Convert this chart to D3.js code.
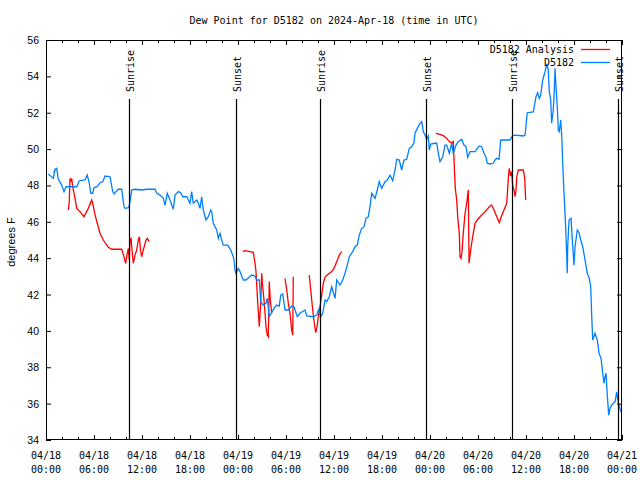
<!DOCTYPE html>
<html><head><meta charset="utf-8">
<script src="https://cdn.jsdelivr.net/npm/d3@7"></script>
<style>body{margin:0;background:#fff}</style></head>
<body><svg id="c" width="640" height="480"></svg>
<script>
const titleText = "Dew Point for D5182 on 2024-Apr-18 (time in UTC)";
const yLabel = "degrees F";
const yTicks = [34,36,38,40,42,44,46,48,50,52,54,56];
const xTickDays = ["04/18","04/18","04/18","04/18","04/19","04/19","04/19","04/19","04/20","04/20","04/20","04/20","04/21"];
const xTickTimes = ["00:00","06:00","12:00","18:00","00:00","06:00","12:00","18:00","00:00","06:00","12:00","18:00","00:00"];
const sunLabels = ["Sunrise","Sunset","Sunrise","Sunset","Sunrise","Sunset"];
const sunTimes = ["2024-04-18T10:24Z","2024-04-18T23:42Z","2024-04-19T10:18Z","2024-04-19T23:30Z","2024-04-20T10:18Z","2024-04-20T23:30Z"];
const seriesNames = ["D5182 Analysis","D5182"];

// hours after 2024-04-18 00:00 UTC
const blueHours = [0.29,0.91,1.13,1.34,1.54,1.96,2.25,2.5,3.84,4.16,4.88,5.16,5.41,5.59,5.84,6.0,6.41,6.75,7.09,7.38,8.0,8.34,8.5,9.04,9.46,9.75,9.88,10.34,10.5,10.71,11.13,11.96,12.59,13.63,13.84,14.25,14.66,14.88,15.16,15.5,15.91,16.13,16.54,16.84,17.09,17.59,17.79,18.0,18.21,18.41,18.84,19.04,19.25,19.46,19.66,20.0,20.29,20.59,20.71,20.91,21.34,21.54,21.75,21.96,22.16,22.71,23.09,23.41,23.5,23.63,23.75,24.04,24.25,24.66,25.0,25.71,26.13,26.34,26.66,26.84,27.16,27.5,27.66,27.91,28.5,28.84,29.16,29.34,29.59,29.88,30.29,30.71,31.0,31.41,31.75,32.38,32.59,33.41,33.84,34.04,34.34,34.59,34.88,35.09,35.41,35.71,36.13,36.34,36.75,37.09,37.38,37.66,37.91,38.34,38.63,38.91,39.16,39.46,39.75,40.0,40.29,40.5,40.71,41.13,41.41,41.66,41.96,42.38,42.66,43.0,43.34,43.63,43.84,44.16,44.46,44.75,45.09,45.41,45.71,46.0,46.13,46.41,46.75,46.96,47.16,47.38,47.59,47.79,47.91,48.09,48.63,48.84,49.04,49.25,49.59,49.88,50.09,50.41,50.71,50.91,51.25,51.54,51.96,52.25,52.5,52.71,53.0,53.63,53.91,54.16,54.46,54.75,55.0,55.16,55.5,55.91,56.13,56.34,56.63,56.84,58.0,58.29,58.63,59.66,59.88,60.16,60.91,61.25,61.46,61.66,61.84,62.09,62.38,62.59,62.79,62.91,63.09,63.21,63.41,63.54,63.63,63.75,63.91,64.04,64.16,64.34,64.46,64.59,64.75,64.96,65.09,65.16,65.21,65.38,65.63,65.79,66.0,66.13,66.41,66.63,66.84,67.09,67.38,67.66,67.91,68.09,68.21,68.34,68.63,68.91,69.13,69.38,69.59,69.75,69.88,70.0,70.16,70.34,70.5,70.71,70.91,71.13,71.34,71.54,71.66,71.84];
const blueValues = [48.63,48.39,48.89,48.94,48.34,48.02,47.66,47.93,47.93,48.26,48.3,48.57,48.12,47.57,47.57,47.88,47.93,48.15,48.21,48.52,48.48,47.66,47.53,47.79,47.79,46.83,46.74,46.78,47.11,47.75,47.79,47.75,47.79,47.79,47.57,47.47,47.29,46.92,47.57,47.2,46.69,47.47,47.66,47.6,47.38,47.38,47.2,47.02,47.66,47.02,47.2,47.02,46.74,47.38,46.65,46.1,46.28,46.65,46.56,45.92,45.55,45.09,45.37,45.0,44.72,44.72,44.45,44.08,43.9,43.35,43.17,43.44,43.26,42.8,42.8,43.07,43.02,42.8,42.8,41.61,41.42,41.52,41.79,40.78,41.24,41.42,41.37,41.97,42.03,41.15,41.15,41.37,41.33,40.78,40.97,41.15,40.82,40.78,40.87,41.15,40.78,40.97,41.7,41.61,41.88,42.43,41.79,42.8,42.52,42.8,43.17,43.62,44.08,44.36,44.63,44.72,45.27,45.64,45.73,46.19,46.28,46.83,47.57,47.29,47.75,48.21,47.84,48.21,48.3,48.57,48.26,48.85,49.44,49.4,48.85,49.4,49.44,50.04,50.13,50.35,50.87,51.14,51.42,51.51,50.96,50.77,50.54,50.72,49.95,50.28,50.32,50.32,49.77,49.31,49.58,50.22,50.22,49.77,50.32,49.77,50.22,50.41,50.54,50.22,50.13,49.55,49.86,49.86,50.04,50.17,50.13,49.77,49.55,49.22,49.18,49.22,49.4,49.49,49.44,50.5,50.5,50.72,50.77,50.72,50.77,52.0,52.04,52.88,53.1,52.79,52.97,53.8,54.26,54.68,54.35,53.16,52.7,51.42,52.15,53.25,54.44,53.43,52.33,51.05,50.96,51.6,50.77,49.22,47.57,45.73,44.08,43.17,44.63,46.1,46.19,45.0,43.62,44.63,45.55,45.4,45.0,44.63,43.9,43.17,42.89,42.43,40.87,39.5,39.87,39.5,38.77,38.49,37.67,37.12,37.48,37.67,36.47,35.37,35.74,35.92,36.02,36.1,36.65,36.02,35.92,35.55];

// null marks a gap in the analysis series
const redHours = [1.0,1.1,null,2.79,2.91,3.0,3.09,3.21,3.34,3.63,3.84,4.25,4.75,5.29,5.71,5.84,6.13,6.41,6.75,7.16,7.79,8.21,9.46,9.75,9.96,10.16,10.29,10.41,10.5,10.63,10.75,10.91,11.13,11.34,11.54,11.66,11.84,11.96,12.16,12.5,12.66,12.91,null,24.59,24.88,25.91,26.13,26.25,26.41,26.54,26.66,26.84,26.96,27.09,27.25,27.38,27.5,27.66,27.79,27.91,28.04,28.21,null,29.88,30.09,30.29,30.5,30.71,30.84,30.91,null,32.91,33.09,33.34,33.54,33.71,33.91,34.04,34.25,34.46,34.66,34.88,35.29,35.71,36.0,36.34,36.66,36.96,null,48.75,49.25,49.66,50.09,50.41,50.71,50.91,51.04,51.16,51.34,51.46,51.66,51.75,51.88,52.0,52.16,52.38,52.59,52.71,52.79,52.88,53.0,53.21,53.41,53.63,53.91,54.25,54.88,55.5,55.71,56.0,56.34,56.66,56.88,57.25,57.59,57.66,57.79,57.91,58.09,58.21,58.34,58.5,58.63,58.75,58.84,59.04,59.66,59.84,59.96];
const redValues = [48.7,48.85,null,46.65,47.11,48.39,48.21,48.39,47.93,47.29,46.74,46.56,46.28,46.74,47.2,47.02,46.38,45.92,45.37,45.0,44.6,44.49,44.49,44.08,43.72,44.27,44.54,43.9,45.0,45.09,44.45,43.72,44.17,44.45,45.0,45.18,44.36,44.08,44.45,45.0,45.09,44.91,null,44.36,44.41,44.32,43.72,43.26,41.97,41.06,40.23,41.52,43.17,42.43,41.7,40.97,40.23,39.77,39.68,42.71,41.7,40.97,null,42.89,42.25,41.52,40.97,40.05,39.77,42.98,null,43.07,42.25,41.15,40.42,39.9,40.32,40.78,41.33,41.97,42.62,42.96,43.13,43.26,43.44,43.81,44.17,44.36,null,50.87,50.81,50.74,50.59,50.41,50.32,50.41,49.03,47.84,47.2,46.28,45.37,44.08,43.99,44.36,45.37,46.47,47.02,47.47,47.75,43.72,44.17,44.82,45.37,45.92,46.1,46.28,46.56,46.87,46.92,46.65,46.28,45.95,46.25,46.65,47.02,47.47,48.39,48.94,48.52,48.76,47.97,47.75,47.38,47.75,48.45,48.85,48.85,48.39,47.2];

const colors = ["#ff0000","#0080ff"];
const mono = "'DejaVu Sans Mono', monospace";
const sans = "'Liberation Sans', Arial, sans-serif";

const W = 640, H = 480;
const L = 46, R = 622, T = 40, B = 440;
const t0 = Date.UTC(2024,3,18);
const hr = h => new Date(t0 + h*3600000);

const svg = d3.select("#c");
const x = d3.scaleUtc().domain([new Date(t0), hr(72)]).range([L, R]);
const y = d3.scaleLinear().domain([34,56]).range([B, T]);

svg.append("rect").attr("width",W).attr("height",H).attr("fill","#fff");

// title
svg.append("text").attr("x",(L+R)/2).attr("y",24).attr("text-anchor","middle")
  .attr("font-family",mono).attr("font-size",10).text(titleText);

// data lines
const redData = redHours.map((h,i)=>({t: h==null?null:hr(h), v: redValues[i]}));
const blueData = blueHours.map((h,i)=>({t: hr(h), v: blueValues[i]}));
const line = d3.line().defined(d=>d.t!=null && d.v!=null).x(d=>x(d.t)).y(d=>y(d.v));
const plot = svg.append("g");
plot.append("path").datum(redData).attr("d",line).attr("fill","none").attr("stroke",colors[0]).attr("stroke-width",1.3);
plot.append("path").datum(blueData).attr("d",line).attr("fill","none").attr("stroke",colors[1]).attr("stroke-width",1.3);

// sunrise / sunset lines
sunTimes.forEach((s,i)=>{
  const xx = Math.round(x(new Date(s)))+0.5;
  svg.append("line").attr("x1",xx).attr("x2",xx).attr("y1",99).attr("y2",B).attr("stroke","#000").attr("stroke-width",1.2);
  svg.append("text").attr("transform",`translate(${xx+4},92) rotate(-90)`)
    .attr("font-family",mono).attr("font-size",10).text(sunLabels[i]);
});

// axes (inward ticks on all four sides)
const minorTicks = d3.range(0,73,2).filter(h=>h%6!==0).map(hr);
const majorTicks = d3.range(0,73,6).map(hr);
function ax(gen, tx, ty){
  const g = svg.append("g").attr("transform",`translate(${tx},${ty})`).call(gen);
  g.select(".domain").remove();
  g.selectAll("line").attr("stroke","#000");
  g.selectAll("text").remove();
  return g;
}
ax(d3.axisBottom(x).tickValues(majorTicks).tickSizeInner(-5).tickSizeOuter(0), 0, B);
ax(d3.axisBottom(x).tickValues(minorTicks).tickSizeInner(-3).tickSizeOuter(0), 0, B);
ax(d3.axisTop(x).tickValues(majorTicks).tickSizeInner(-5).tickSizeOuter(0), 0, T);
ax(d3.axisTop(x).tickValues(minorTicks).tickSizeInner(-3).tickSizeOuter(0), 0, T);
ax(d3.axisLeft(y).tickValues(yTicks).tickSizeInner(-5).tickSizeOuter(0), L, 0);
ax(d3.axisRight(y).tickValues(yTicks).tickSizeInner(-5).tickSizeOuter(0), R, 0);

// frame
svg.append("rect").attr("x",L+0.5).attr("y",T+0.5).attr("width",R-L-1).attr("height",B-T-1)
  .attr("fill","none").attr("stroke","#000").attr("stroke-width",1);

// x labels
majorTicks.forEach((d,i)=>{
  const g = svg.append("text").attr("text-anchor","middle").attr("font-family",mono).attr("font-size",10);
  g.append("tspan").attr("x",x(d)).attr("y",459).text(xTickDays[i]);
  g.append("tspan").attr("x",x(d)).attr("y",473).text(xTickTimes[i]);
});
// y labels
yTicks.forEach(v=>{
  svg.append("text").attr("x",39).attr("y",y(v)+4).attr("text-anchor","end")
    .attr("font-family",sans).attr("font-size",10.5).text(v);
});
svg.append("text").attr("transform",`translate(15,242) rotate(-90)`).attr("text-anchor","middle")
  .attr("font-family",sans).attr("font-size",11).text(yLabel);

// legend
seriesNames.forEach((n,i)=>{
  const yy = 49 + i*13;
  svg.append("text").attr("x",574).attr("y",yy+4).attr("text-anchor","end")
    .attr("font-family",mono).attr("font-size",10).text(n);
  svg.append("line").attr("x1",581).attr("x2",610).attr("y1",yy+0.5).attr("y2",yy+0.5)
    .attr("stroke",colors[i]).attr("stroke-width",1.3);
});
</script></body></html>
